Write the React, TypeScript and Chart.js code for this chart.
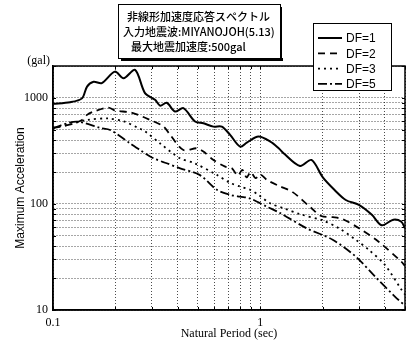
import React, { useEffect, useRef } from "react";
import { Chart, registerables } from "chart.js";

Chart.register(...registerables);

const seriesLabels = ["DF=1", "DF=2", "DF=3", "DF=5"];

const df1Period = [0.1, 0.121, 0.138, 0.146, 0.157, 0.172, 0.199, 0.219, 0.249, 0.278, 0.311, 0.329, 0.354, 0.388, 0.426, 0.485, 0.532, 0.595, 0.653, 0.716, 0.8, 0.862, 0.981, 1.12, 1.228, 1.297, 1.556, 1.768, 2.006, 2.28, 2.589, 2.995, 3.46, 3.86, 4.39, 4.8, 5.0];
const df1Accel = [880, 910, 990, 1280, 1420, 1380, 1770, 1530, 1840, 1110, 960, 845, 900, 745, 800, 600, 577, 536, 536, 448, 347, 379, 432, 387, 335, 301, 228, 260, 178, 136, 109, 98, 79, 63, 71, 68, 59];

const df2Period = [0.1, 0.12, 0.138, 0.146, 0.157, 0.185, 0.199, 0.235, 0.258, 0.294, 0.341, 0.367, 0.426, 0.494, 0.532, 0.595, 0.678, 0.73, 0.78, 0.82, 0.86, 0.9, 0.95, 1.0, 1.08, 1.23, 1.43, 1.77, 1.97, 2.24, 2.5, 3.0, 3.73, 4.8, 5.0];
const df2Accel = [520, 560, 620, 692, 743, 811, 760, 732, 692, 620, 540, 450, 323, 335, 312, 260, 225, 217, 185, 210, 178, 200, 175, 190, 168, 148, 130, 91, 77, 75, 72, 59, 44, 28.6, 26];

const df3Period = [0.1, 0.12, 0.146, 0.185, 0.22, 0.258, 0.278, 0.329, 0.41, 0.48, 0.618, 0.716, 0.8, 0.895, 0.98, 1.12, 1.3, 1.56, 2.0, 2.4, 2.89, 3.34, 4.0, 4.8, 5.0];
const df3Accel = [520, 560, 620, 640, 600, 521, 484, 372, 270, 243, 188, 158, 146, 136, 122, 101, 91, 80, 70, 59, 46, 37, 26.6, 15.6, 14];

const df5Period = [0.1, 0.13, 0.169, 0.189, 0.235, 0.263, 0.305, 0.354, 0.411, 0.51, 0.618, 0.716, 0.8, 0.89, 1.08, 1.25, 1.674, 2.238, 2.888, 3.59, 4.47, 5.0];
const df5Accel = [521, 598, 521, 499, 374, 323, 270, 242, 217, 188, 136, 122, 117, 113, 94, 82, 59, 46, 32, 20.6, 13.4, 11];

const xGridValues = [0.1, 0.2, 0.3, 0.4, 0.5, 0.6, 0.7, 0.8, 0.9, 1, 2, 3, 4, 5];
const yGridValues = [10, 20, 30, 40, 50, 60, 70, 80, 90, 100, 200, 300, 400, 500, 600, 700, 800, 900, 1000, 2000];
const xTickLabels = [0.1, 1];
const yTickLabels = [10, 100, 1000];

const titleLines = ["非線形加速度応答スペクトル", "入力地震波:MIYANOJOH(5.13)", "最大地震加速度:500gal"];
const xAxisTitle = "Natural Period (sec)";
const yAxisTitle = "Maximum Acceleration";
const yUnit = "(gal)";

const dashStyles: number[][] = [[], [7, 5], [2, 4], [9, 3, 2, 3]];

const near = (list: number[], v: number) => list.find((t) => Math.abs(t - v) <= t * 1e-6);

export default function App() {
  const ref = useRef<HTMLCanvasElement>(null);

  useEffect(() => {
    document.body.style.margin = "0";
    const periods = [df1Period, df2Period, df3Period, df5Period];
    const accels = [df1Accel, df2Accel, df3Accel, df5Accel];

    const overlay = {
      id: "overlay",
      afterDraw(chart: any) {
        const { ctx, chartArea } = chart;
        const { left, right, top, bottom } = chartArea;
        ctx.save();
        ctx.setLineDash([]);
        ctx.strokeStyle = "#000";
        ctx.lineWidth = 1;
        const xs = chart.scales.x;
        const ys = chart.scales.y;
        ctx.beginPath();
        xs.ticks.forEach((t: any) => {
          const px = Math.round(xs.getPixelForValue(t.value)) + 0.5;
          ctx.moveTo(px, bottom);
          ctx.lineTo(px, bottom - 3);
          ctx.moveTo(px, top);
          ctx.lineTo(px, top + 3);
        });
        ys.ticks.forEach((t: any) => {
          const py = Math.round(ys.getPixelForValue(t.value)) + 0.5;
          ctx.moveTo(left, py);
          ctx.lineTo(left + 3, py);
          ctx.moveTo(right, py);
          ctx.lineTo(right - 3, py);
        });
        ctx.stroke();
        ctx.lineWidth = 1.5;
        ctx.strokeRect(left, top, right - left, bottom - top);

        ctx.fillStyle = "#000";
        ctx.font = "12px 'Liberation Serif'";
        ctx.textAlign = "right";
        ctx.textBaseline = "middle";
        ctx.fillText(yUnit, 50, 61);

        const bx = 118, by = 4, bw = 162, bh = 54;
        ctx.fillStyle = "#000";
        ctx.fillRect(bx + 3, by + bh, bw, 3);
        ctx.fillRect(bx + bw, by + 3, 2, bh);
        ctx.fillStyle = "#fff";
        ctx.fillRect(bx, by, bw, bh);
        ctx.lineWidth = 1;
        ctx.strokeRect(bx + 0.5, by + 0.5, bw, bh);
        ctx.fillStyle = "#000";
        ctx.font = "500 11px 'Noto Sans CJK JP'";
        ctx.textAlign = "left";
        ctx.textBaseline = "middle";
        const indents = [9, 5, 13];
        titleLines.forEach((line, i) => {
          ctx.fillText(line, bx + indents[i], by + 13 + i * 15);
        });

        const lx = 313, ly = 23, lw = 78, lh = 67;
        ctx.fillStyle = "#fff";
        ctx.fillRect(lx, ly, lw, lh);
        ctx.strokeRect(lx + 0.5, ly + 0.5, lw, lh);
        ctx.font = "12px 'Liberation Sans'";
        ctx.textAlign = "left";
        chart.data.datasets.forEach((ds: any, i: number) => {
          const ry = ly + 15 + i * 15.3;
          ctx.strokeStyle = "#000";
          ctx.lineWidth = ds.borderWidth;
          ctx.setLineDash(ds.borderDash || []);
          ctx.beginPath();
          ctx.moveTo(lx + 5, ry);
          ctx.lineTo(lx + 29, ry);
          ctx.stroke();
          ctx.setLineDash([]);
          ctx.fillStyle = "#000";
          ctx.fillText(ds.label, lx + 33, ry + 1);
        });
        ctx.restore();
      },
    };

    const chart = new Chart(ref.current as HTMLCanvasElement, {
      type: "line",
      data: {
        datasets: seriesLabels.map((label, i) => ({
          label,
          data: periods[i].map((x, j) => ({ x, y: accels[i][j] })),
          borderColor: "#000",
          backgroundColor: "#000",
          borderWidth: i === 0 ? 2 : 1.8,
          borderDash: dashStyles[i],
          pointRadius: 0,
          tension: 0.3,
          fill: false,
        })),
      },
      options: {
        animation: false,
        responsive: true,
        maintainAspectRatio: false,
        layout: { padding: { top: 66, right: 4, left: 0, bottom: 0 } },
        plugins: { legend: { display: false }, tooltip: { enabled: false } },
        scales: {
          x: {
            type: "logarithmic",
            min: 0.1,
            max: 5,
            afterBuildTicks: (s: any) => {
              s.ticks = xGridValues.map((v) => ({ value: v }));
            },
            afterFit: (s: any) => {
              s.height = 33;
            },
            grid: { color: "rgba(0,0,0,0.7)", lineWidth: 1, drawTicks: false },
            border: { display: true, color: "#000", width: 1.5, dash: [1, 2] },
            ticks: {
              autoSkip: false,
              maxRotation: 0,
              padding: 6,
              color: "#000",
              font: { family: "'Liberation Serif'", size: 12 },
              callback: (v: any) => (near(xTickLabels, Number(v)) !== undefined ? String(v) : ""),
            },
            title: {
              display: true,
              text: xAxisTitle,
              color: "#000",
              font: { family: "'Liberation Serif'", size: 12 },
              padding: { top: 0, bottom: 2 },
            },
          },
          y: {
            type: "logarithmic",
            min: 10,
            max: 2000,
            afterBuildTicks: (s: any) => {
              s.ticks = yGridValues.map((v) => ({ value: v }));
            },
            afterFit: (s: any) => {
              s.width = 53;
            },
            grid: { color: "rgba(0,0,0,0.7)", lineWidth: 1, drawTicks: false },
            border: { display: true, color: "#000", width: 1.5, dash: [1, 2] },
            ticks: {
              autoSkip: false,
              padding: 5,
              color: "#000",
              font: { family: "'Liberation Serif'", size: 12 },
              callback: (v: any) => (near(yTickLabels, Number(v)) !== undefined ? String(v) : ""),
            },
            title: {
              display: true,
              text: yAxisTitle,
              color: "#000",
              font: { family: "'Liberation Sans'", size: 12 },
              padding: { top: 13, bottom: 0 },
            },
          },
        },
      },
      plugins: [overlay],
    });
    return () => chart.destroy();
  }, []);

  return (
    <div style={{ width: 411, height: 343, position: "relative" }}>
      <canvas ref={ref} />
    </div>
  );
}
